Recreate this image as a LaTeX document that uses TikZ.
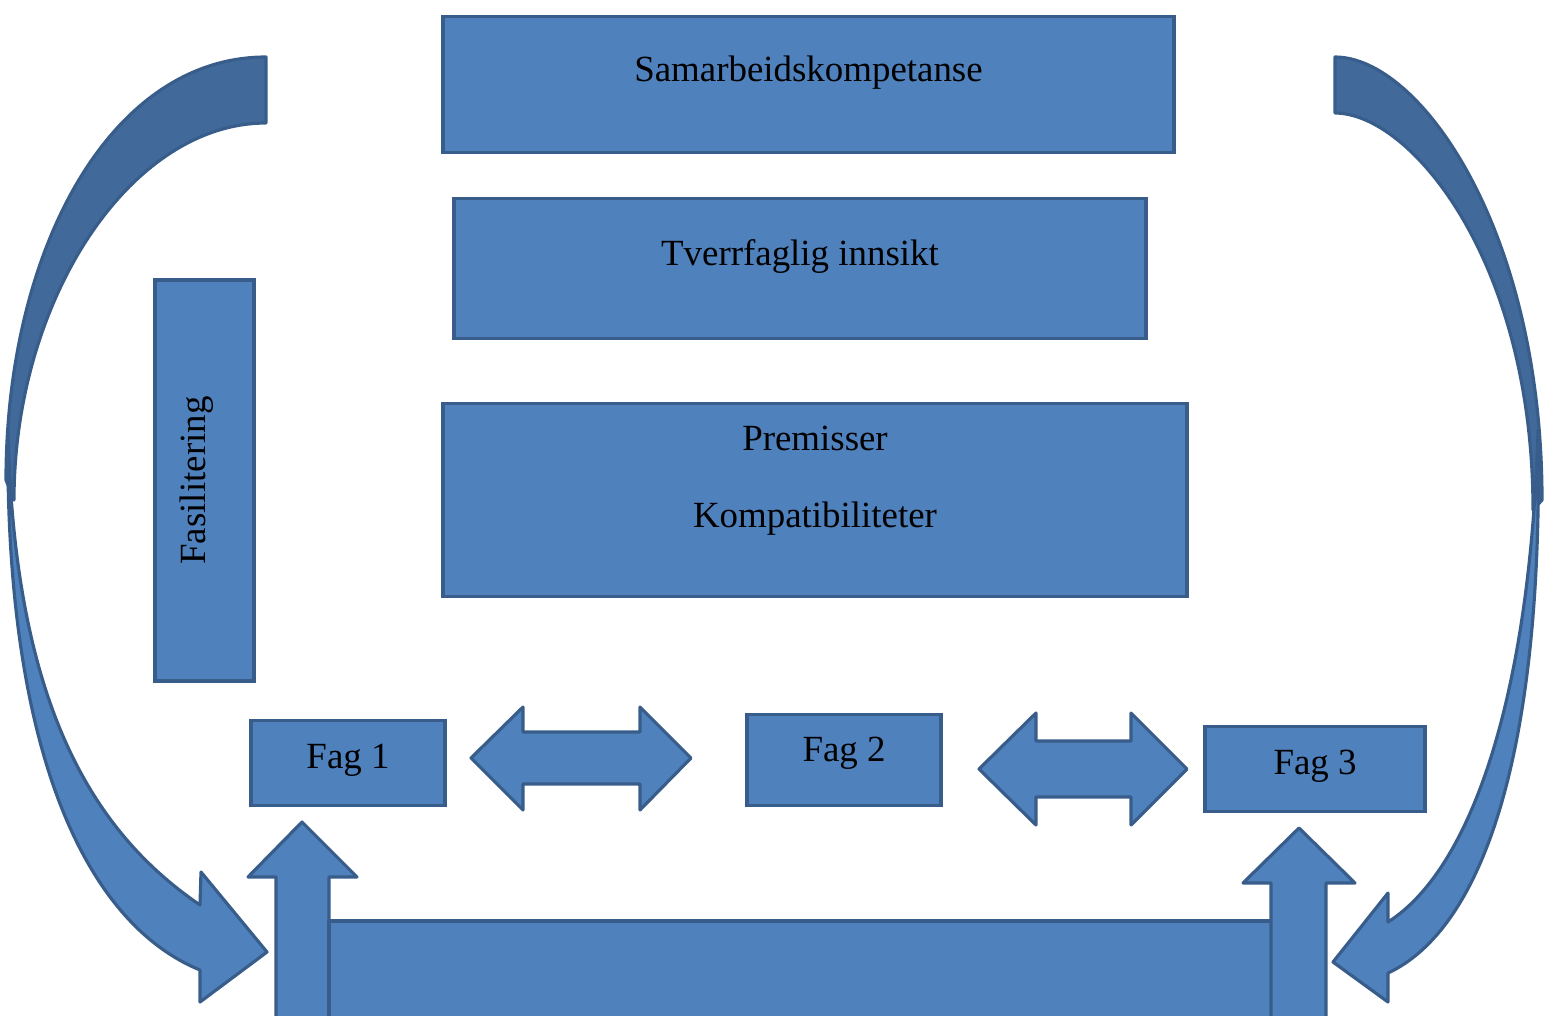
\documentclass[tikz,border=0pt]{standalone}
\usepackage{fontspec}
\setmainfont{Liberation Serif}
\usepackage{tikz}
\definecolor{fagblaa}{RGB}{79,129,189}
\definecolor{kantblaa}{RGB}{56,93,138}
\definecolor{moerkblaa}{RGB}{65,106,154}

\begin{document}
\begin{tikzpicture}[x=0.02cm, y=-0.02cm,
    boks/.style={draw=kantblaa, fill=fagblaa, line width=1.8pt, inner sep=0pt,
      font=\fontsize{21}{43.65}\selectfont},
    pil/.style={draw=kantblaa, fill=fagblaa, line width=1.8pt, line join=round}]
    \useasboundingbox (0,0) rectangle (1544,1015);
    \clip (0,0) rectangle (1544,1015);
    % Buede piler, venstre og hoyre
    \draw[pil, fill=moerkblaa] (266,57) .. controls (110,57) and (6,250) .. (6,480)
      -- (14,500) .. controls (14,300) and (130,123) .. (266,123) -- cycle;
    \draw[pil] (8,430) .. controls (4,760) and (90,925) .. (200,970) -- (200,1002)
      -- (267,952) -- (201,872) -- (200,905) .. controls (90,830) and (14,700) .. (8,430) -- cycle;
    \draw[pil, fill=moerkblaa] (1335,57) .. controls (1420,57) and (1542,230) .. (1542,500)
      -- (1533,510) .. controls (1533,260) and (1410,113) .. (1335,113) -- cycle;
    \draw[pil] (1538,430) .. controls (1544,760) and (1480,930) .. (1388,973) -- (1388,1002)
      -- (1333,962) -- (1388,893) -- (1388,922) .. controls (1470,870) and (1530,700) .. (1538,430) -- cycle;
    % Bokser
    \node[boks, anchor=north, minimum width=14.62cm, minimum height=2.72cm,
      text height=1.30cm, text depth=1.42cm] (samarbeid) at (808.5,15) {Samarbeidskompetanse};
    \node[boks, anchor=north, minimum width=13.84cm, minimum height=2.8cm,
      text height=1.34cm, text depth=1.46cm] (tverrfaglig) at (800,197) {Tverrfaglig innsikt};
    \node[boks, anchor=north, align=center, minimum width=14.88cm, minimum height=3.86cm,
      text height=2.48cm, text depth=1.38cm] (premisser) at (815,402) {Premisser\\Kompatibiliteter};
    \node[boks, rotate=90, minimum width=8.02cm, minimum height=1.98cm,
      text height=1.0cm, text depth=0.98cm] (fasilitering) at (204.5,480.5) {Fasilitering};
    \node[boks, anchor=north, minimum width=3.88cm, minimum height=1.7cm,
      text height=0.96cm, text depth=0.74cm] (fag1) at (348,719) {Fag 1};
    \node[boks, anchor=north, minimum width=3.88cm, minimum height=1.82cm,
      text height=0.94cm, text depth=0.88cm] (fag2) at (844,713) {Fag 2};
    \node[boks, anchor=north, minimum width=4.4cm, minimum height=1.7cm,
      text height=0.96cm, text depth=0.74cm] (fag3) at (1315,725) {Fag 3};
    % Dobbeltpiler mellom fagene
    \draw[pil] (471,758) -- (523,707) -- (523,732) -- (640,732) -- (640,707) -- (691,758)
      -- (640,810) -- (640,784) -- (523,784) -- (523,810) -- cycle;
    \draw[pil] (979,769) -- (1036,713) -- (1036,741) -- (1131,741) -- (1131,713) -- (1187,769)
      -- (1131,825) -- (1131,797) -- (1036,797) -- (1036,825) -- cycle;
    % Grunnlag med piler opp
    \draw[pil] (276,1030) -- (276,877) -- (248,877) -- (302,822) -- (357,877) -- (329,877)
      -- (329,1030) -- cycle;
    \draw[pil] (329,921) rectangle (1273,1030);
    \draw[pil] (1271,1030) -- (1271,883) -- (1243,883) -- (1299,828) -- (1355,883) -- (1326,883)
      -- (1326,1030) -- cycle;
\end{tikzpicture}
\end{document}
